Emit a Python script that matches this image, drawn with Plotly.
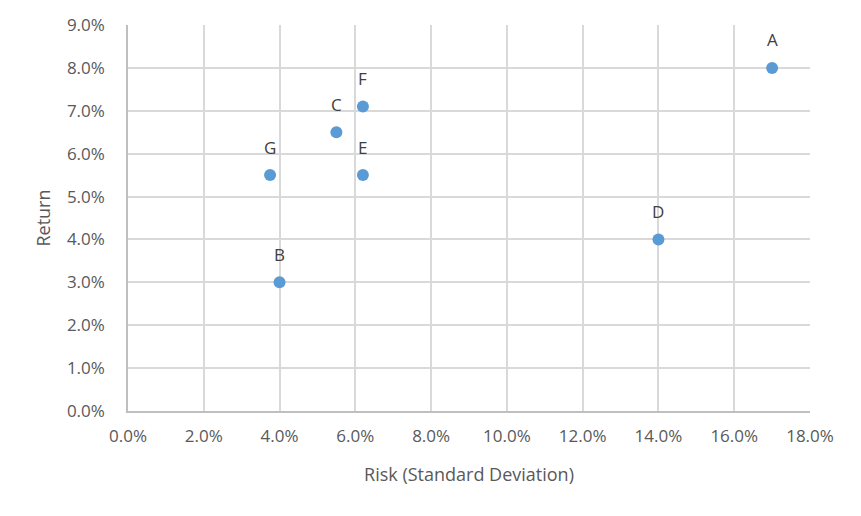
import plotly.graph_objects as go

labels = ["A", "B", "C", "D", "E", "F", "G"]
risk = [0.170, 0.040, 0.055, 0.140, 0.062, 0.062, 0.0375]
ret = [0.080, 0.030, 0.065, 0.040, 0.055, 0.071, 0.055]

x_ticks = [i * 0.02 for i in range(10)]
y_ticks = [i * 0.01 for i in range(10)]

fig = go.Figure()
fig.add_trace(go.Scatter(
    x=risk, y=ret, mode="markers",
    marker=dict(size=12, color="#5B9BD5"),
    cliponaxis=False,
))
for lab, xv, yv in zip(labels, risk, ret):
    fig.add_annotation(x=xv, y=yv, text=lab, showarrow=False, yshift=28,
                       font=dict(family="Open Sans", size=17, color="#404040"))

fig.update_layout(
    width=861, height=516,
    margin=dict(l=128, r=51, t=25, b=105),
    plot_bgcolor="white", paper_bgcolor="white",
    showlegend=False,
    font=dict(family="Open Sans", color="#595959"),
)
fig.update_xaxes(
    range=[0, 0.18], tickvals=x_ticks, tickformat=".1%",
    showgrid=True, gridcolor="#D9D9D9", gridwidth=1.5,
    showline=True, linecolor="#BFBFBF", linewidth=1.5,
    zeroline=False, tickfont=dict(size=17, color="#595959"),
    ticks="outside", ticklen=9, tickcolor="rgba(0,0,0,0)",
    title=dict(text="Risk (Standard Deviation)", font=dict(size=18, color="#595959"), standoff=22),
)
fig.update_yaxes(
    range=[0, 0.09], tickvals=y_ticks, tickformat=".1%",
    showgrid=True, gridcolor="#D9D9D9", gridwidth=1.5,
    showline=True, linecolor="#BFBFBF", linewidth=1.5,
    zeroline=False, tickfont=dict(size=17, color="#595959"),
    ticks="outside", ticklen=18, tickcolor="rgba(0,0,0,0)",
    title=dict(text="Return", font=dict(size=18, color="#595959"), standoff=12),
)

fig.write_html("out.html")
